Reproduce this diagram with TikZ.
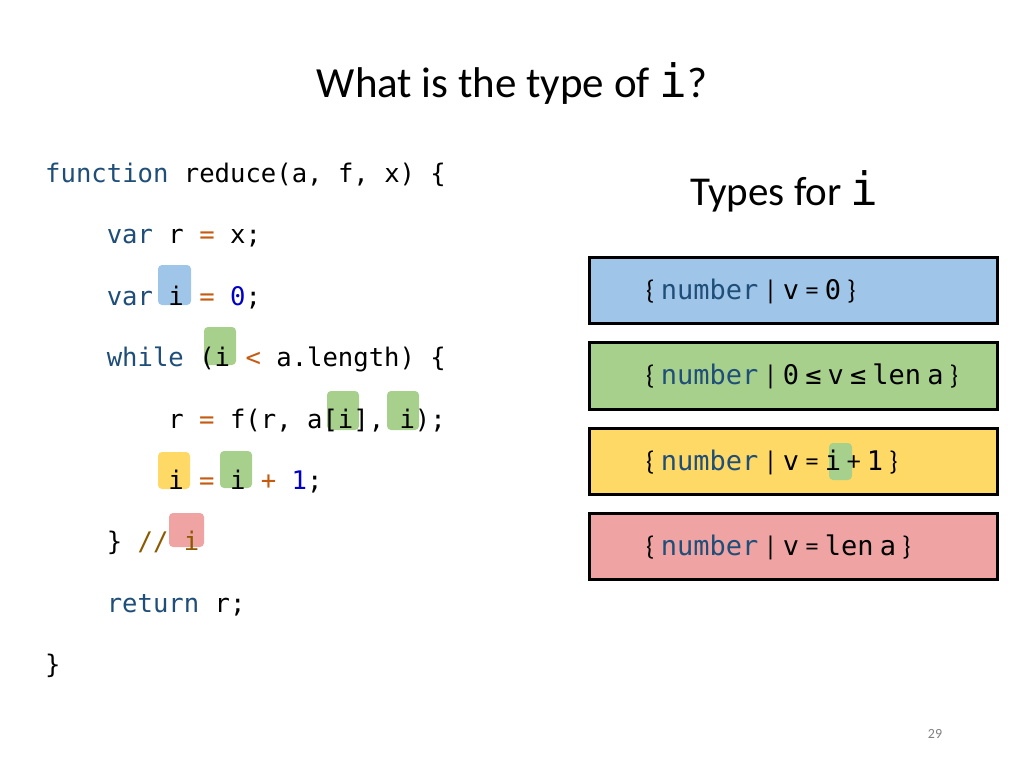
\documentclass[tikz,border=0pt]{standalone}
\usepackage{fontspec}
\setmainfont{Carlito}
\setmonofont{DejaVu Sans Mono}
\usetikzlibrary{positioning}
\definecolor{hlblue}{HTML}{9FC5E8}
\definecolor{hlgreen}{HTML}{A8D08D}
\definecolor{hlyellow}{HTML}{FFD966}
\definecolor{hlred}{HTML}{EFA3A3}
\definecolor{kwcol}{HTML}{1F4E79}
\definecolor{opcol}{HTML}{C55A11}
\definecolor{numcol}{HTML}{0000C8}
\definecolor{cmtcol}{HTML}{8B5A00}
\newcommand{\kw}[1]{\textcolor{kwcol}{#1}}
\newcommand{\op}[1]{\textcolor{opcol}{#1}}
\newcommand{\nm}[1]{\textcolor{numcol}{#1}}
\newcommand{\tm}[1]{{\ttfamily #1}}
\tikzset{
    %code lines
    code/.style={
           anchor=base west,
           inner sep=0pt,
           font=\ttfamily\fontsize{25.6}{30}\selectfont},
    %highlight behind a variable
    hl/.style={
           rounded corners=4pt,
           fill=#1},
    %type boxes
    tbox/.style={
           draw=black, line width=3pt,
           fill=#1},
    ttext/.style={
           anchor=base west,
           inner sep=0pt,
           font=\fontsize{27}{30}\selectfont}
}
\begin{document}
\begin{tikzpicture}[x=1pt,y=-1pt]
 \useasboundingbox (0,0) rectangle (1024,768);
 %highlights
    \fill[hl=hlblue] (158,265) rectangle (191,305);
    \fill[hl=hlgreen] (204,327) rectangle (236,365);
    \fill[hl=hlgreen] (327,391) rectangle (359,430);
    \fill[hl=hlgreen] (387,391) rectangle (419,430);
    \fill[hl=hlyellow] (158,452) rectangle (190,489);
    \fill[hl=hlgreen] (220,451) rectangle (252,488);
    \fill[hl=hlred] (169,513) rectangle (204,547);
 %title
    \node[anchor=base, inner sep=0pt, font=\fontsize{43}{48}\selectfont] (title) at (512,97)
        {What is the type of \texttt{\fontsize{46}{48}\selectfont i}?};
 %code
    \node[code] (l1) at (45,182) {\kw{function} reduce(a, f, x) \{};
    \node[code] (l2) at (106.6,243) {\kw{var} r \op{=} x;};
    \node[code] (l3) at (106.6,305) {\kw{var} i \op{=} \nm{0};};
    \node[code] (l4) at (106.6,366) {\kw{while} (i \op{<} a.length) \{};
    \node[code] (l5) at (168.2,428) {r \op{=} f(r, a[i], i);};
    \node[code] (l6) at (168.2,489) {i \op{=} i \op{+} \nm{1};};
    \node[code] (l7) at (106.6,550) {\} \textcolor{cmtcol}{// i}};
    \node[code] (l8) at (106.6,612) {\kw{return} r;};
    \node[code] (l9) at (45,673) {\}};
 %types
    \node[anchor=base west, inner sep=0pt, font=\fontsize{41}{46}\selectfont] (types) at (690,205)
        {Types for \texttt{\fontsize{46}{48}\selectfont i}};
    \filldraw[tbox=hlblue] (589,257) rectangle (997,323);
    \filldraw[tbox=hlgreen] (589,342) rectangle (997,409);
    \filldraw[tbox=hlyellow] (589,428) rectangle (997,494);
    \filldraw[tbox=hlred] (589,513) rectangle (997,579);
    \fill[hl=hlgreen] (829,443) rectangle (852,480);
    \node[ttext] (t1) at (646,299) {\{ \tm{\kw{number}} | \tm{v} = \tm{0} \}};
    \node[ttext] (t2) at (646,384) {\{ \tm{\kw{number}} | \tm{0} \tm{≤} \tm{v} \tm{≤} \tm{len} \tm{a} \}};
    \node[ttext] (t3) at (646,470) {\{ \tm{\kw{number}} | \tm{v} = \tm{i} + \tm{1} \}};
    \node[ttext] (t4) at (646,555) {\{ \tm{\kw{number}} | \tm{v} = \tm{len} \tm{a} \}};
 %page number
    \node[anchor=base, inner sep=0pt, text=gray, font=\fontsize{14}{16}\selectfont] (page) at (935,738) {29};
\end{tikzpicture}
\end{document}
